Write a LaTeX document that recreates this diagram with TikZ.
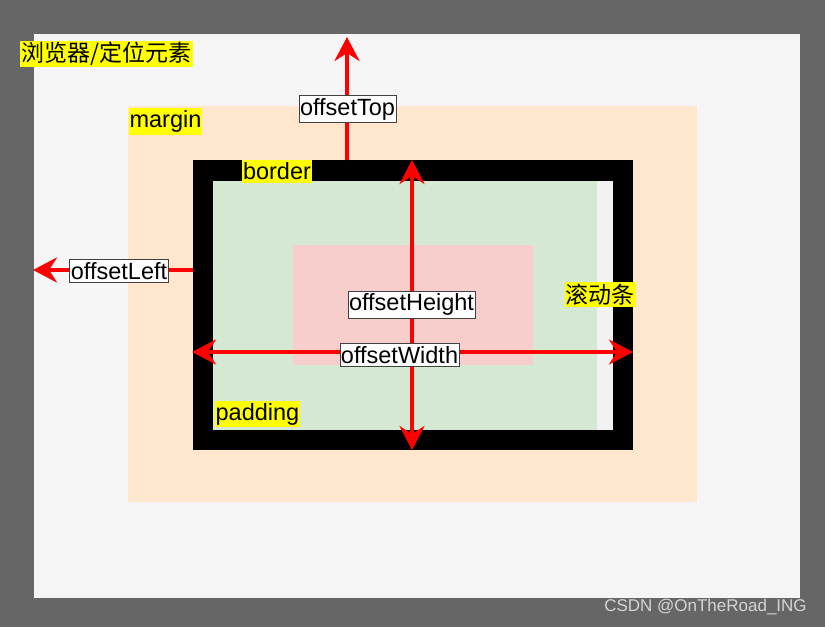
\documentclass[tikz,border=0pt]{standalone}
\usepackage{fontspec}
\setmainfont{Liberation Sans}
\newfontfamily\cjk{Noto Sans CJK SC}
\usetikzlibrary{arrows.meta}
\definecolor{bggray}{HTML}{666666}
\definecolor{lightbg}{HTML}{F5F5F5}
\definecolor{peach}{HTML}{FFE6CC}
\definecolor{padgreen}{HTML}{D5E8D4}
\definecolor{contentpink}{HTML}{F8CECC}
\definecolor{scrollgray}{HTML}{F2F2F2}
\definecolor{hlyellow}{HTML}{FFFF00}
\definecolor{arrowred}{HTML}{FF0000}
\definecolor{wmgray}{HTML}{D4D4D4}
\tikzset{
  hl/.style={fill=hlyellow, inner xsep=1pt, inner ysep=2.5pt, font=\fontsize{23.5}{25}\selectfont},
  hlcjk/.style={fill=hlyellow, inner xsep=1pt, inner ysep=1.5pt, font=\cjk\fontsize{23}{25}\selectfont},
  measure/.style={fill=white, draw=black!75, line width=0.8pt, inner xsep=1pt, inner ysep=2.5pt, font=\fontsize{23.5}{25}\selectfont},
  tipred/.tip={Stealth[length=24pt,width=25pt,inset=8pt]},
  redarrow/.style={draw=arrowred, line width=4pt, -tipred},
  redarrows/.style={draw=arrowred, line width=4pt, tipred-tipred},
}
\begin{document}
\begin{tikzpicture}[x=1pt,y=-1pt]
\useasboundingbox (0,0) rectangle (825,627);
% backgrounds
\fill[bggray] (0,0) rectangle (825,627);
\fill[lightbg] (34,34) rectangle (800,598);
\fill[peach] (128,106) rectangle (697,502);
\fill[black] (193,160) rectangle (633,450);
\fill[padgreen] (213,181) rectangle (613,430);
\fill[scrollgray] (597,181) rectangle (613,430);
\fill[contentpink] (293,245) rectangle (533,365);
% coordinates
\coordinate (topstart) at (347,160);
\coordinate (topend) at (347,37);
\coordinate (leftstart) at (193,270);
\coordinate (leftend) at (33,270);
\coordinate (vtop) at (412,160);
\coordinate (vbot) at (412,450);
\coordinate (hleft) at (192,352);
\coordinate (hright) at (633,352);
% arrows
\draw[redarrow] (topstart) -- (topend);
\draw[redarrow] (leftstart) -- (leftend);
\draw[redarrows] (vbot) -- (vtop);
\draw[redarrows] (hleft) -- (hright);
% labels
\node[hlcjk] (browser) at (106.5,54) {浏览器/定位元素};
\node[hl] (margin) at (165.5,121.5) {margin};
\node[hl] (border) at (277,171.5) {border};
\node[hl] (padding) at (257.5,414) {padding};
\node[hlcjk] (scroll) at (600,294.5) {滚动条};
\node[measure] (otop) at (347.5,109) {offsetTop};
\node[measure] (oleft) at (119,271) {offsetLeft};
\node[measure] (oheight) at (411.5,304.5) {offsetHeight};
\node[measure] (owidth) at (399.5,355) {offsetWidth};
\node[text=wmgray, font=\fontsize{17}{19}\selectfont] (wm) at (705.5,607) {CSDN @OnTheRoad\_ING};
\end{tikzpicture}
\end{document}
